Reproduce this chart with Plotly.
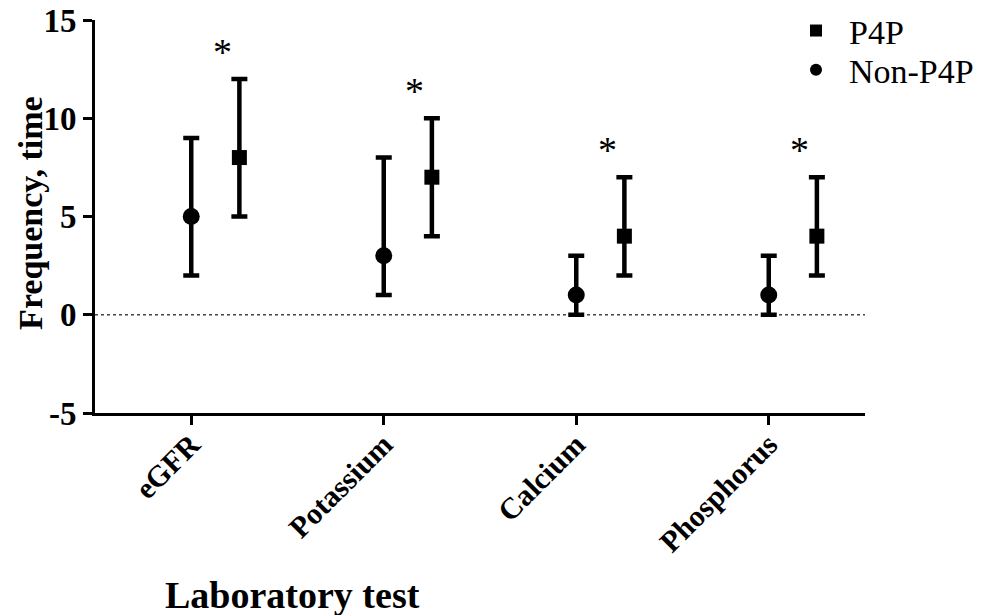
import plotly.graph_objects as go

categories = ["eGFR", "Potassium", "Calcium", "Phosphorus"]
non_p4p_median = [5, 3, 1, 1]
non_p4p_low = [2, 1, 0, 0]
non_p4p_high = [9, 8, 3, 3]
p4p_median = [8, 7, 4, 4]
p4p_low = [5, 4, 2, 2]
p4p_high = [12, 10, 7, 7]
y_ticks = [-5, 0, 5, 10, 15]
y_tick_labels = ["-5", "0", "5", "10", "15"]

FONT = "Liberation Serif"
xi = list(range(len(categories)))
x_np = [i for i in xi]
x_p = [i + 0.25 for i in xi]

fig = go.Figure()
fig.add_trace(go.Scatter(
    x=x_p, y=p4p_median, mode="markers", name="P4P", legend="legend",
    marker=dict(symbol="square", size=15, color="black"),
    error_y=dict(type="data", symmetric=False,
                 array=[h - m for h, m in zip(p4p_high, p4p_median)],
                 arrayminus=[m - l for m, l in zip(p4p_median, p4p_low)],
                 thickness=4.5, width=8, color="black"),
))
fig.add_trace(go.Scatter(
    x=x_np, y=non_p4p_median, mode="markers", name="Non-P4P", legend="legend2",
    marker=dict(symbol="circle", size=17, color="black"),
    error_y=dict(type="data", symmetric=False,
                 array=[h - m for h, m in zip(non_p4p_high, non_p4p_median)],
                 arrayminus=[m - l for m, l in zip(non_p4p_median, non_p4p_low)],
                 thickness=4.5, width=8, color="black"),
))

fig.add_shape(type="line", xref="x", yref="y", x0=-0.5, x1=3.5, y0=0, y1=0,
              line=dict(color="#444", width=1.5, dash="dot"), layer="below")

for x, h in zip(x_p, p4p_high):
    fig.add_annotation(x=x - 0.09, y=h, text="*", showarrow=False, yanchor="bottom",
                       yshift=4, font=dict(family=FONT, size=38, color="black"))

fig.add_annotation(xref="paper", yref="paper", x=0.256, y=-0.463,
                   text="<b>Laboratory test</b>", showarrow=False,
                   xanchor="center", yanchor="middle",
                   font=dict(family=FONT, size=38, color="black"))
fig.add_annotation(xref="paper", yref="paper", x=-0.084, y=0.51,
                   text="<b>Frequency, time</b>", showarrow=False, textangle=-90,
                   xanchor="center", yanchor="middle",
                   font=dict(family=FONT, size=34, color="black"))

leg_common = dict(xanchor="left", yanchor="top",
                  font=dict(family=FONT, size=34, color="black"),
                  itemsizing="constant", itemwidth=56, bgcolor="rgba(0,0,0,0)")

fig.update_layout(
    width=984, height=615,
    paper_bgcolor="white", plot_bgcolor="white",
    margin=dict(l=87, r=127, t=12, b=210, autoexpand=False),
    font=dict(family=FONT, color="black"),
    showlegend=True,
    legend=dict(x=0.8935, y=1.046, **leg_common),
    legend2=dict(x=0.8935, y=0.946, **leg_common),
    xaxis=dict(range=[-0.5, 3.5], tickvals=xi, ticktext=categories,
               tickangle=-45, showgrid=False, zeroline=False, automargin=False,
               showline=True, linecolor="black", linewidth=3,
               ticks="outside", ticklen=9, tickwidth=3, tickcolor="black",
               ticklabelstandoff=-10, ticklabeloverflow="allow",
               tickfont=dict(family=FONT, size=30, color="black", weight="bold")),
    yaxis=dict(range=[-5, 15], tickvals=y_ticks, ticktext=y_tick_labels,
               showgrid=False, zeroline=False, automargin=False,
               showline=True, linecolor="black", linewidth=3,
               ticks="outside", ticklen=9, tickwidth=3, tickcolor="black",
               ticklabeloverflow="allow",
               tickfont=dict(family=FONT, size=33, color="black", weight="bold")),
)

fig.write_html("out.html")
